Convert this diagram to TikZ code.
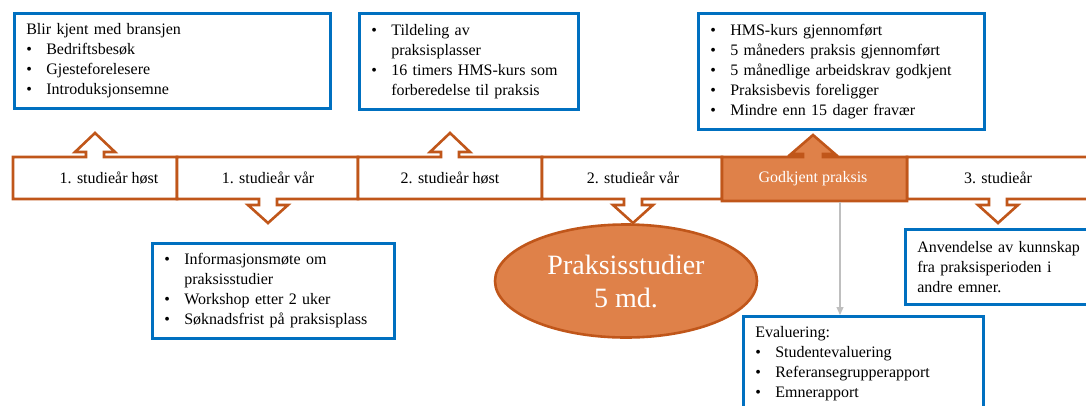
\documentclass[tikz,border=0pt]{standalone}
\usepackage{fontspec}
\setmainfont{Liberation Serif}
\usetikzlibrary{arrows.meta,shapes.geometric}

\definecolor{oransje}{HTML}{C0561A}
\definecolor{oransjefyll}{HTML}{DF8149}
\definecolor{blaa}{HTML}{0070C0}
\definecolor{graa}{HTML}{BFBFBF}

\tikzset{
  tidsboks/.style={draw=oransje, line width=2.6pt, fill=white},
  tidstekst/.style={font=\fontsize{16}{20}\selectfont},
  infoboks/.style={draw=blaa, line width=2.6pt, fill=white, anchor=north west,
    align=left, inner xsep=12pt, inner ysep=0pt, font=\fontsize{16}{20}\selectfont},
  graapil/.style={draw=graa, line width=1.3pt, -{Triangle[width=7pt,length=8pt]}}
}
\newcommand{\pkt}[1]{\makebox[20pt][l]{\textbullet}#1}
\newcommand{\fort}[1]{\hspace*{20pt}#1}

% boks med pil opp / ned: {venstre}{hoyre}{pil x}{stil}
\newcommand{\oppboks}[4]{%
  \draw[#4] (#1,199) -- (#1,157) -- ({#3-9},157) -- ({#3-9},152) -- ({#3-20},152)
    -- (#3,133) -- ({#3+20},152) -- ({#3+9},152) -- ({#3+9},157) -- (#2,157)
    -- (#2,199) -- cycle;}
\newcommand{\nedboks}[4]{%
  \draw[#4] (#1,157) -- (#2,157) -- (#2,199) -- ({#3+9},199) -- ({#3+9},205)
    -- ({#3+20},205) -- (#3,223) -- ({#3-20},205) -- ({#3-9},205) -- ({#3-9},199)
    -- (#1,199) -- cycle;}

\begin{document}
\begin{tikzpicture}[x=1pt,y=-1pt]
  \useasboundingbox (0,0) rectangle (1086,405);
  \clip (0,0) rectangle (1086,405);

  % Tidslinje
  \oppboks{13}{177}{95}{tidsboks}
  \nedboks{177}{358}{268}{tidsboks}
  \oppboks{358}{542}{450}{tidsboks}
  \nedboks{542}{722}{633}{tidsboks}
  \nedboks{907}{1100}{998}{tidsboks}
  \draw[tidsboks, fill=oransjefyll] (722,201) -- (722,157) -- (803,157) -- (803,154)
    -- (791,154) -- (813,135) -- (835,154) -- (823,154) -- (823,157) -- (907,157)
    -- (907,201) -- cycle;

  \node[tidstekst] (h1) at (109,178) {1. studieår høst};
  \node[tidstekst] (v1) at (268,178) {1. studieår vår};
  \node[tidstekst] (h2) at (450,178) {2. studieår høst};
  \node[tidstekst] (v2) at (633,178) {2. studieår vår};
  \node[tidstekst, text=white] (gp) at (813,179) {Godkjent praksis};
  \node[tidstekst] (s3) at (998,178) {3. studieår};

  % Praksisperioden
  \node[ellipse, draw=oransje, line width=2.6pt, fill=oransjefyll, text=white,
    minimum width=262pt, minimum height=113pt, align=center,
    font=\fontsize{28}{33}\selectfont] (praksis) at (626,281) {Praksisstudier\\5 md.};

  % Tekstbokser
  \node[infoboks, minimum width=316pt, minimum height=95pt, text width=292pt]
    (bransje) at (13,12) {Blir kjent med bransjen\\
    \pkt{Bedriftsbesøk}\\ \pkt{Gjesteforelesere}\\ \pkt{Introduksjonsemne}};
  \node[infoboks, minimum width=219pt, minimum height=96pt, text width=195pt]
    (tildeling) at (358,12) {\pkt{Tildeling av}\\ \fort{praksisplasser}\\
    \pkt{16 timers HMS-kurs som}\\ \fort{forberedelse til praksis}};
  \node[infoboks, minimum width=286pt, minimum height=116pt, text width=262pt]
    (krav) at (697,12) {\pkt{HMS-kurs gjennomført}\\
    \pkt{5 måneders praksis gjennomført}\\ \pkt{5 månedlige arbeidskrav godkjent}\\
    \pkt{Praksisbevis foreligger}\\ \pkt{Mindre enn 15 dager fravær}};
  \node[infoboks, minimum width=242pt, minimum height=95pt, text width=218pt]
    (info) at (151,242) {\pkt{Informasjonsmøte om}\\ \fort{praksisstudier}\\
    \pkt{Workshop etter 2 uker}\\ \pkt{Søknadsfrist på praksisplass}};
  \node[infoboks, minimum width=200pt, minimum height=75pt, text width=176pt]
    (anvend) at (904,228) {Anvendelse av kunnskap\\ fra praksisperioden i\\ andre emner.};
  \node[infoboks, minimum width=240pt, minimum height=95pt, text width=216pt]
    (eval) at (742,315) {Evaluering:\\ \pkt{Studentevaluering}\\
    \pkt{Referansegrupperapport}\\ \pkt{Emnerapport}};

  % Pil til evaluering
  \coordinate (gpfot) at (840,202);
  \draw[graapil] (gpfot) -- (gpfot |- eval.north);
\end{tikzpicture}
\end{document}
